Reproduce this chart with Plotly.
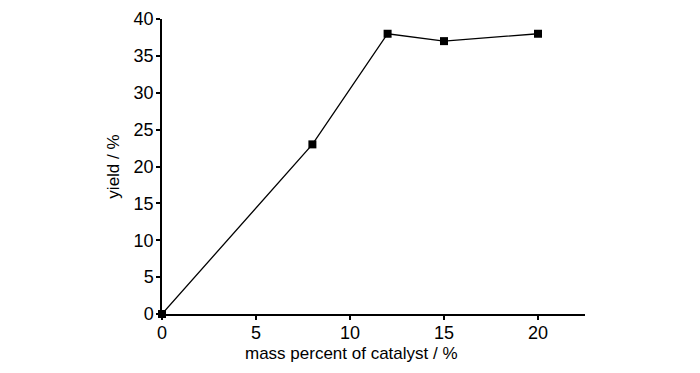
import plotly.graph_objects as go

catalyst_pct = [0, 8, 12, 15, 20]
yield_pct = [0, 23, 38, 37, 38]
x_ticks = [0, 5, 10, 15, 20]
y_ticks = [0, 5, 10, 15, 20, 25, 30, 35, 40]

FONT = "Liberation Sans, Arial, sans-serif"

fig = go.Figure()
fig.add_trace(go.Scatter(
    x=catalyst_pct, y=yield_pct, mode="lines+markers",
    line=dict(color="black", width=1.3),
    marker=dict(symbol="square", size=8, color="black"),
    showlegend=False,
    cliponaxis=False,
))

axis_common = dict(
    showline=True, linecolor="black", linewidth=1.5,
    ticks="outside", ticklen=4, tickwidth=1.5, tickcolor="black",
    showgrid=False, zeroline=False, automargin=False,
    tickfont=dict(family=FONT, size=18, color="black"),
)

fig.update_layout(
    width=700, height=373,
    margin=dict(l=154, r=123, t=11, b=67),
    plot_bgcolor="white", paper_bgcolor="white",
    font=dict(family=FONT, size=18, color="black"),
    xaxis=dict(range=[0, 22.5], tickvals=x_ticks, ticklabelstandoff=-2,
               **axis_common),
    yaxis=dict(range=[0, 40], tickvals=y_ticks, ticklabelstandoff=-1,
               title=dict(text="yield / %", standoff=10,
                          font=dict(family=FONT, size=17, color="black")),
               **axis_common),
    annotations=[dict(
        text="mass percent of catalyst / %", xref="paper", yref="paper",
        x=0.447, y=0, xanchor="center", yanchor="top", yshift=-28,
        showarrow=False, font=dict(family=FONT, size=17, color="black"),
    )],
)

fig.write_html("out.html")
